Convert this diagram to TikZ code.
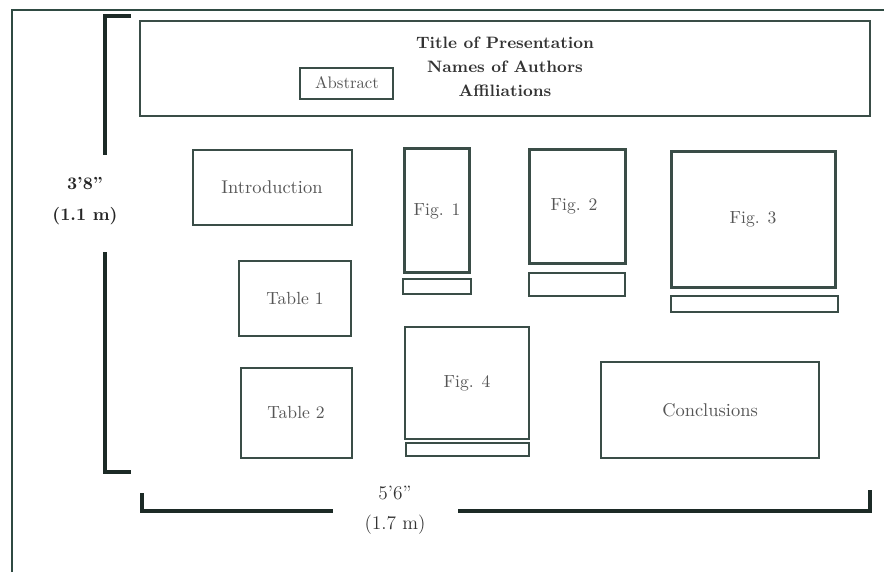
\documentclass[tikz,border=0pt]{standalone}
\usepackage{tikz}

\definecolor{framec}{HTML}{2F4A42}
\definecolor{boxc}{HTML}{3A4D47}
\definecolor{barc}{HTML}{1C2A26}
\definecolor{txtc}{HTML}{555555}

\tikzset{
  box/.style={draw=boxc, line width=1.3pt},
  figbox/.style={draw=boxc, line width=1.7pt},
  capbar/.style={draw=boxc, line width=1.2pt},
  bracket/.style={draw=barc, line width=2.3pt},
  lbl/.style={text=txtc, font=\fontsize{10}{12}\selectfont, inner sep=0pt},
  dimlbl/.style={align=center, inner sep=0pt}
}

\begin{document}
\begin{tikzpicture}[x=0.02cm,y=-0.02cm]
\useasboundingbox (0,0) rectangle (884,572);
% Frame
\draw[draw=framec, line width=1.1pt] (12,572) -- (12,10) -- (884,10);
%TOP
\draw[box, line width=1.1pt] (140,21) rectangle (870,116);
\node[align=center, text=black!80, font=\fontsize{9.4}{13.6}\bfseries] (title) at (505,67)
  {Title of Presentation\\Names of Authors\\Affiliations};
\draw[box] (300,68) rectangle (393,99);
\node[lbl, font=\fontsize{9.5}{12}\selectfont] (abstract) at (347,83) {Abstract};
%LEFT
\draw[box] (193,150) rectangle (352,225);
\node[lbl, font=\fontsize{10.5}{12}\selectfont] (intro) at (272,187) {Introduction};
\draw[box] (239,261) rectangle (351,336);
\node[lbl] (tab1) at (295,298) {Table 1};
\draw[box] (241,368) rectangle (352,458);
\node[lbl] (tab2) at (296,412) {Table 2};
%FIGURES
\draw[figbox] (404,148) rectangle (469,272);
\node[lbl] (fig1) at (437,211) {Fig. 1};
\draw[capbar] (403,279) rectangle (471,294);
\draw[figbox] (529,149) rectangle (625,263);
\node[lbl] (fig2) at (574,206) {Fig. 2};
\draw[capbar] (529,273) rectangle (625,296);
\draw[figbox] (671,151) rectangle (835,287);
\node[lbl] (fig3) at (753,219) {Fig. 3};
\draw[capbar] (671,296) rectangle (838,312);
\draw[box] (405,327) rectangle (529,439);
\node[lbl] (fig4) at (467,383) {Fig. 4};
\draw[capbar] (406,443) rectangle (529,456);
%BOT
\draw[box] (601,362) rectangle (819,458);
\node[lbl, font=\fontsize{10.5}{12}\selectfont] (concl) at (710,410) {Conclusions};
% Dimensions
\node[dimlbl, font=\fontsize{10}{18}\bfseries, text=black!85] (height) at (85,201) {3'8''\\(1.1 m)};
\draw[bracket] (131,16) -- (105,16) -- (105,155);
\draw[bracket] (105,252) -- (105,472) -- (131,472);
\node[dimlbl, font=\fontsize{11}{17}\selectfont, text=black!80] (width) at (395,510) {5'6''\\(1.7 m)};
\draw[bracket] (142,493) -- (142,511) -- (333,511);
\draw[bracket] (458,511) -- (870,511) -- (870,490);
\end{tikzpicture}
\end{document}
